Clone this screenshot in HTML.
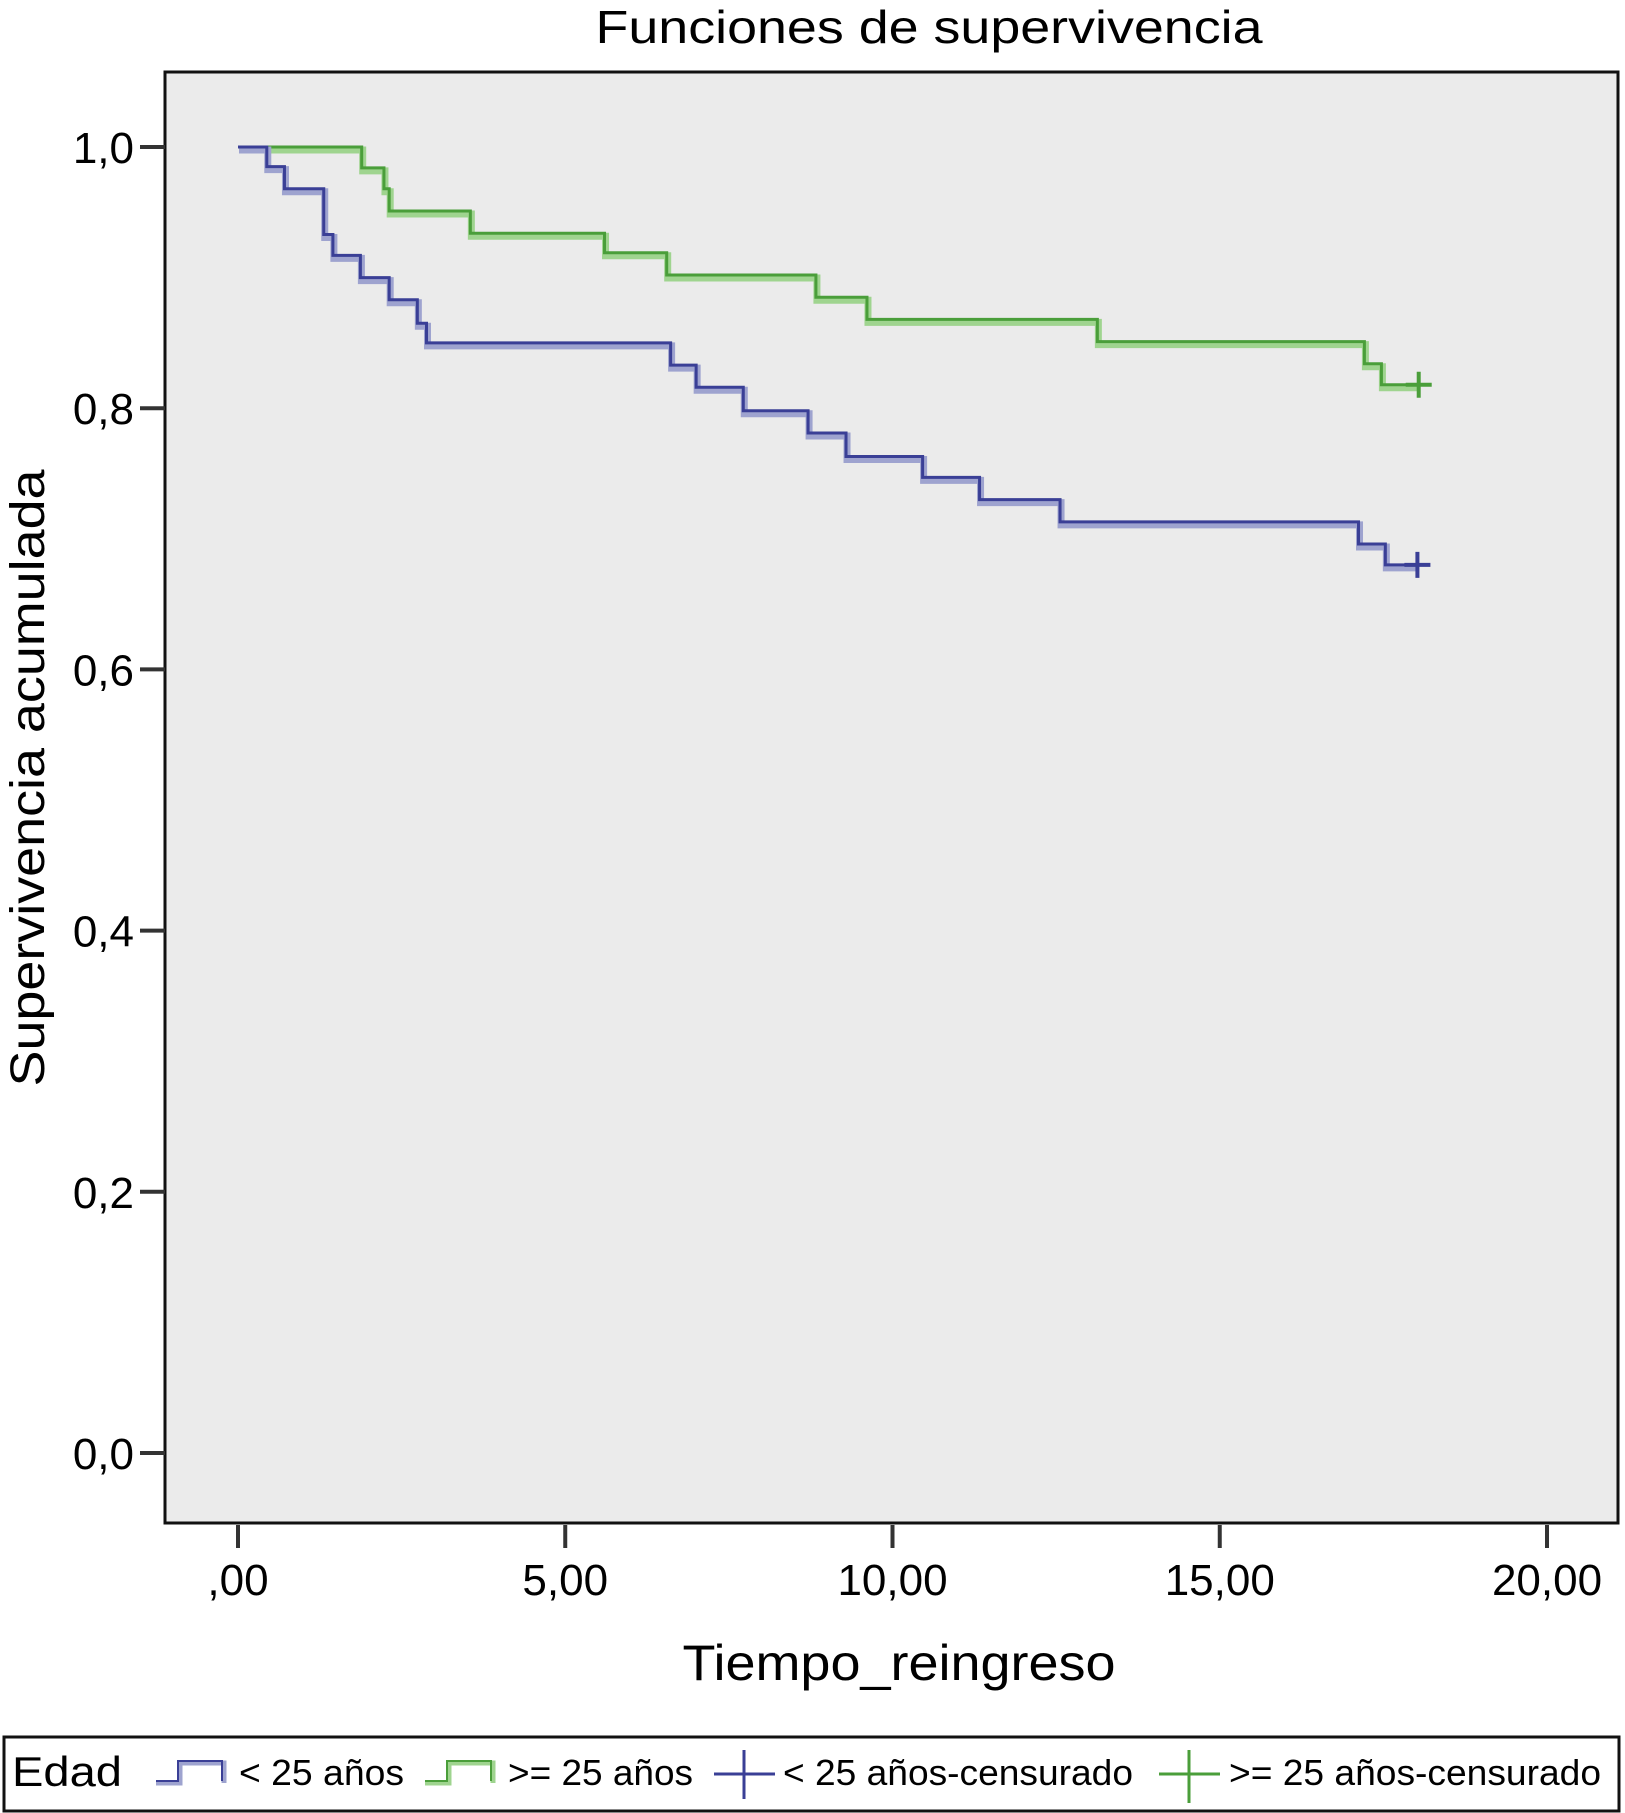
<!DOCTYPE html>
<html><head><meta charset="utf-8"><style>
html,body{margin:0;padding:0;background:#fff;}
svg{display:block;font-family:"Liberation Sans",sans-serif;}
</style></head><body>
<svg id="chart" width="1625" height="1813" viewBox="0 0 1625 1813">
<text x="929" y="43" font-size="46" text-anchor="middle" textLength="667" lengthAdjust="spacingAndGlyphs">Funciones de supervivencia</text>
<rect x="165" y="72" width="1453" height="1451" fill="#ebebeb" stroke="#111" stroke-width="3"/>
<g id="yaxis"></g>
<g id="xaxis"></g>
<g id="series"></g>
<text transform="translate(44,778) rotate(-90)" font-size="48" text-anchor="middle" textLength="617" lengthAdjust="spacingAndGlyphs">Supervivencia acumulada</text>
<text x="899" y="1680" font-size="50" text-anchor="middle" textLength="433" lengthAdjust="spacingAndGlyphs">Tiempo_reingreso</text>
<g>
<rect x="4" y="1737" width="1615" height="74" fill="#fff" stroke="#111" stroke-width="3"/>
<text x="12" y="1786" font-size="42" textLength="110" lengthAdjust="spacingAndGlyphs">Edad</text>
<g>
<path d="M156,1783 H180 V1763 H224 V1783" fill="none" stroke="#9ea3cf" stroke-width="5"/>
<path d="M156,1781 H178 V1761 H222 V1781" fill="none" stroke="#3a3f96" stroke-width="2"/>
<text x="239" y="1785" font-size="36" textLength="165" lengthAdjust="spacingAndGlyphs">&lt; 25 años</text></g>
<g>
<path d="M425,1783 H449 V1763 H493 V1783" fill="none" stroke="#9fd48f" stroke-width="5"/>
<path d="M425,1781 H447 V1761 H491 V1781" fill="none" stroke="#4a9e3a" stroke-width="2"/>
<text x="508" y="1785" font-size="36" textLength="185" lengthAdjust="spacingAndGlyphs">&gt;= 25 años</text></g>
<g>
<path d="M714,1774 H775 M744,1750 V1799" stroke="#3a3f96" stroke-width="3"/>
<text x="783" y="1785" font-size="36" textLength="350" lengthAdjust="spacingAndGlyphs">&lt; 25 años-censurado</text></g>
<g>
<path d="M1159,1774 H1220 M1189,1750 V1803" stroke="#4a9e3a" stroke-width="3"/>
<text x="1229" y="1785" font-size="36" textLength="372" lengthAdjust="spacingAndGlyphs">&gt;= 25 años-censurado</text></g>
</g>
</svg>
<script>
const xTicks=[0,5,10,15,20];
const xTickLabels=[",00","5,00","10,00","15,00","20,00"];
const yTicks=[0,0.2,0.4,0.6,0.8,1.0];
const yTickLabels=["0,0","0,2","0,4","0,6","0,8","1,0"];
const under25Times=[0.44,0.71,1.31,1.45,1.87,2.31,2.74,2.88,6.61,7.0,7.72,8.71,9.29,10.46,11.33,12.56,17.12,17.53];
const under25Surv=[0.985,0.968,0.933,0.917,0.900,0.883,0.865,0.850,0.833,0.816,0.798,0.781,0.763,0.747,0.730,0.713,0.696,0.680];
const under25End=18.02;
const over25Times=[1.89,2.23,2.31,3.55,5.6,6.55,8.83,9.61,13.13,17.21,17.47];
const over25Surv=[0.984,0.968,0.951,0.934,0.919,0.902,0.885,0.868,0.851,0.834,0.818];
const over25End=18.04;
const NS="http://www.w3.org/2000/svg";
function X(v){return 238+v*(1547-238)/20;}
function Y(v){return 1453-v*(1453-147);}
function mk(tag,attrs,parent){const e=document.createElementNS(NS,tag);for(const k in attrs)e.setAttribute(k,attrs[k]);parent.appendChild(e);return e;}
const ya=document.getElementById('yaxis'),xa=document.getElementById('xaxis'),sg=document.getElementById('series');
yTicks.forEach((t,i)=>{
 const l=mk('line',{x1:140,x2:165,y1:Y(t),y2:Y(t),stroke:'#333','stroke-width':4},ya);
 
 
 const tx=mk('text',{x:134,y:Y(t)+16,'font-size':44,'text-anchor':'end'},ya);
 tx.textContent=yTickLabels[i];
 
 
});
xTicks.forEach((t,i)=>{
 const l=mk('line',{x1:X(t),x2:X(t),y1:1525,y2:1548,stroke:'#333','stroke-width':4},xa);
 
 
 const tx=mk('text',{x:X(t),y:1595,'font-size':44,'text-anchor':'middle'},xa);
 tx.textContent=xTickLabels[i];
 
 
});
function stepPath(times,surv,end){
 let d='M'+X(0)+','+Y(1);let prev=1;
 times.forEach((t,i)=>{d+=' H'+X(t)+' V'+Y(surv[i]);prev=surv[i];});
 d+=' H'+X(end);return d;
}
function drawSeries(times,surv,end,dark,light,name){
 const d=stepPath(times,surv,end);
 const h=mk('path',{d:d,fill:'none',stroke:light,'stroke-width':7,transform:'translate(1,3)'},sg);
 
 
 const p=mk('path',{d:d,fill:'none',stroke:dark,'stroke-width':3},sg);
 
 
 const last=surv[surv.length-1];
 const c=mk('path',{d:'M'+(X(end)-13)+','+Y(last)+' H'+(X(end)+13)+' M'+X(end)+','+(Y(last)-13)+' V'+(Y(last)+13),stroke:dark,'stroke-width':4},sg);
 
 
}
drawSeries(over25Times,over25Surv,over25End,'#4a9e3a','#9fd48f','over25');
drawSeries(under25Times,under25Surv,under25End,'#3a3f96','#9ea3cf','under25');
</script>
</body></html>
